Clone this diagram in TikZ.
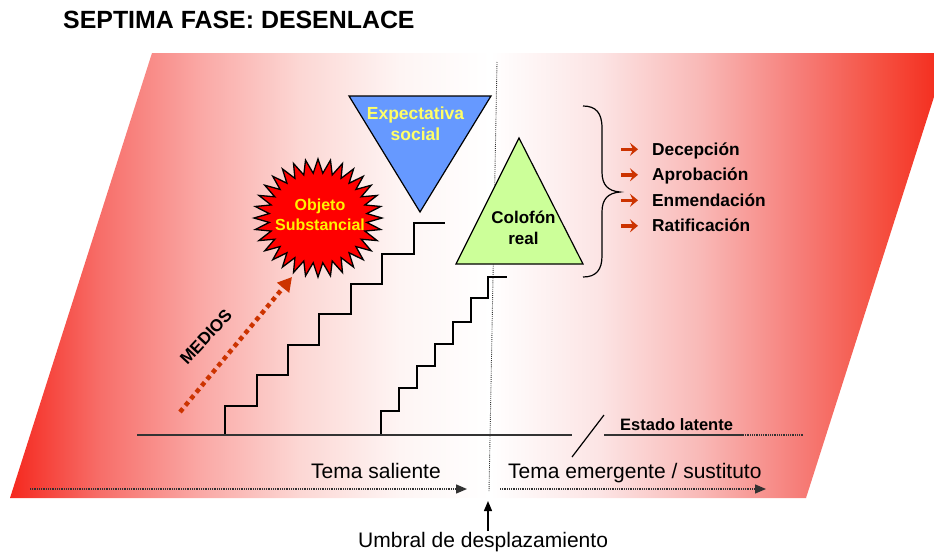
\documentclass[tikz,border=0pt]{standalone}
\usepackage{fontspec}
\setmainfont{Liberation Sans}
\usetikzlibrary{arrows.meta}
\definecolor{g0}{RGB}{245,40,30}
\definecolor{g1}{RGB}{247,110,105}
\definecolor{g2}{RGB}{250,168,165}
\definecolor{g3}{RGB}{252,215,212}
\definecolor{g4}{RGB}{254,245,244}
\definecolor{g6}{RGB}{252,228,228}
\definecolor{g7}{RGB}{249,185,183}
\definecolor{g8}{RGB}{246,125,120}
\definecolor{g9}{RGB}{245,80,65}
\definecolor{g10}{RGB}{244,40,25}
\definecolor{arrowred}{RGB}{204,51,0}
\definecolor{expblue}{RGB}{102,153,255}
\definecolor{colgreen}{RGB}{204,255,153}
\definecolor{paleyellow}{RGB}{255,255,102}
\definecolor{dotgray}{RGB}{50,50,50}
\pgfdeclarehorizontalshading{bgshade}{100bp}{color(0bp)=(g0); color(25bp)=(g0); color(29.8bp)=(g1); color(35.13bp)=(g2); color(40.46bp)=(g3); color(45.79bp)=(g4); color(50.59bp)=(white); color(56.45bp)=(g6); color(61.78bp)=(g7); color(67.11bp)=(g8); color(71.38bp)=(g9); color(75bp)=(g10); color(100bp)=(g10)}
\tikzset{
  stairline/.style={line width=1.6pt, black},
  baseln/.style={line width=1.4pt, black!80},
  finedots/.style={line width=1.4pt, dotgray, dash pattern=on 1pt off 0.8pt},
  tritext/.style={align=center, inner sep=0pt, font=\bfseries\fontsize{17}{21}\selectfont},
  listtext/.style={anchor=base west, inner sep=0pt, font=\bfseries\fontsize{17.3}{20}\selectfont},
  plaintext/.style={anchor=base west, inner sep=0pt, font=\fontsize{21}{24}\selectfont},
  listarrow/.style={line width=3.4pt, arrowred, -{Stealth[length=8pt,width=13pt,inset=3pt]}},
}
\begin{document}
\begin{tikzpicture}[x=1pt,y=-1pt]
\useasboundingbox (0,0) rectangle (934,552);
% background parallelogram
\path[shading=bgshade] (152,53) -- (948,53) -- (806,498) -- (10,498) -- cycle;
% title
\node[anchor=base west, inner sep=0pt, font=\bfseries\fontsize{24.9}{28}\selectfont] (title) at (63,28) {SEPTIMA FASE: DESENLACE};
% vertical dotted threshold line
\coordinate (vtop) at (497,62);
\coordinate (vbot) at (489,492);
\draw[line width=0.9pt, dotgray, dash pattern=on 0.9pt off 1.2pt] (vtop) -- (vbot);
% Expectativa social
\draw[line width=1.2pt, fill=expblue] (349,96) -- (491,96) -- (420,212) -- cycle;
\node[tritext, text=paleyellow, font=\bfseries\fontsize{17.5}{21}\selectfont] (expect) at (415.5,123.5) {Expectativa\\social};
% Colofon real
\draw[line width=1.2pt, fill=colgreen] (519,138) -- (583,264) -- (456,264) -- cycle;
\node[tritext] (colofon) at (523.5,227.5) {Colofón\\real};
% star
\begin{scope}[shift={(318,218)}]
\draw[line width=1.3pt, fill=red] (0:64 and 59)
  \foreach \i in {0,...,31} { -- ({\i*11.25+5.625}:49 and 45) -- ({\i*11.25+11.25}:64 and 59) } -- cycle;
\end{scope}
\node[tritext, text=yellow, font=\bfseries\fontsize{16}{20}\selectfont] (objeto) at (320,215.2) {Objeto\\Substancial};
% MEDIOS arrow
\coordinate (mstart) at (180,412);
\coordinate (mend) at (292,277);
\draw[arrowred, line width=4.5pt, dash pattern=on 4.5pt off 4pt, -{Triangle[length=14pt,width=15pt]}] (mstart) -- (mend);
\node[inner sep=0pt, rotate=47, font=\bfseries\fontsize{17}{20}\selectfont] (medios) at (206,337) {MEDIOS};
% staircases
\draw[stairline] (225,435) -- (225,406) -- (257,406) -- (257,375) -- (288,375) -- (288,345) -- (319,345) -- (319,314) -- (351,314) -- (351,284) -- (382,284) -- (382,254) -- (414,254) -- (414,223) -- (445,223);
\draw[stairline] (381,435) -- (381,411) -- (399,411) -- (399,388) -- (417,388) -- (417,366) -- (435,366) -- (435,344) -- (453,344) -- (453,322) -- (471,322) -- (471,298) -- (488,298) -- (488,277) -- (507,277);
% base line with break
\draw[baseln] (137,435) -- (572,435);
\draw[line width=1.2pt] (572,457) -- (604,415);
\draw[baseln] (604,435) -- (743,435);
\draw[finedots, line width=1.2pt] (743,435) -- (804,435);
\node[inner sep=0pt, anchor=base west, font=\bfseries\fontsize{16.5}{20}\selectfont] (latente) at (620,430) {Estado latente};
% brace
\draw[line width=1.2pt] (583,106) .. controls (596,106) and (602,113) .. (602,128) -- (602,172) .. controls (602,185) and (608,191) .. (620,192) .. controls (608,193) and (602,199) .. (602,212) -- (602,256) .. controls (602,270) and (596,277) .. (583,277);
% list
\foreach \t [count=\k from 0] in {Decepción,Aprobación,Enmendación,Ratificación}{
  \draw[listarrow] (621,{149.3+25.5*\k}) -- (638,{149.3+25.5*\k});
  \node[listtext] (item\k) at (652,{155.3+25.5*\k}) {\t};
}
% bottom themes
\node[plaintext] (saliente) at (311,478) {Tema saliente};
\node[plaintext] (emergente) at (508,478) {Tema emergente / sustituto};
\coordinate (l1) at (30,489);
\coordinate (l2) at (467,489);
\coordinate (r1) at (500,489);
\coordinate (r2) at (766,489);
\draw[finedots, -{Triangle[length=11pt,width=9pt]}] (l1) -- (l2);
\draw[finedots, -{Triangle[length=11pt,width=9pt]}] (r1) -- (r2);
% umbral
\node[plaintext] (umbral) at (358,547) {Umbral de desplazamiento};
\coordinate (utip) at (488,501);
\coordinate (ubase) at (488,531);
\draw[line width=1.3pt, -{Triangle[length=10pt,width=8pt]}] (ubase) -- (utip);
\end{tikzpicture}
\end{document}
